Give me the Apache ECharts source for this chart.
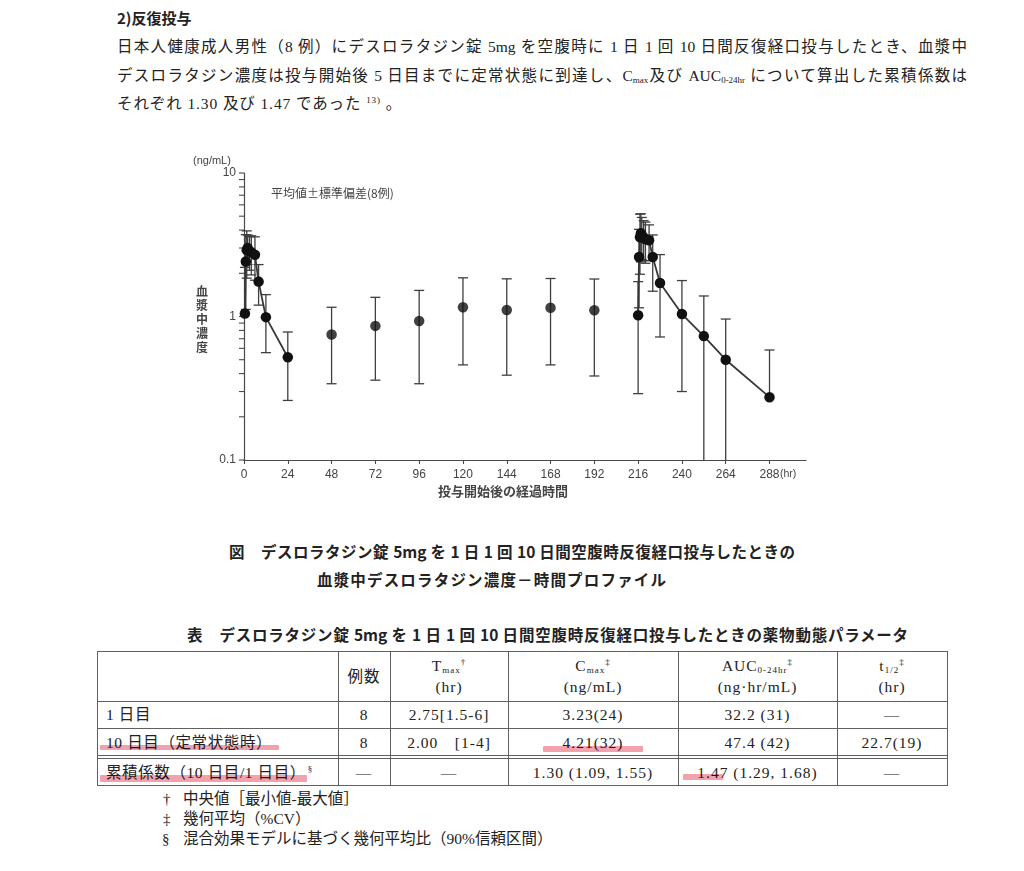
<!DOCTYPE html>
<html>
<head>
<meta charset="utf-8">
<script src="https://cdn.jsdelivr.net/npm/echarts@6/dist/echarts.min.js"></script>
<style>
html,body{margin:0;padding:0;background:#fff;}
#page{position:relative;width:1024px;height:871px;overflow:hidden;background:#fff;
  font-family:"Liberation Serif","Noto Sans CJK JP",serif;color:#222;}
.t{position:absolute;white-space:normal;}
.j{text-align:justify;text-align-last:justify;}
.g{font-family:"Noto Sans CJK JP",sans-serif;font-weight:700;}
sub.s{font-size:9px;vertical-align:-2px;line-height:0;}
sup.s{font-size:9px;vertical-align:6px;line-height:0;}
#chart{position:absolute;left:0;top:0;width:1024px;height:871px;z-index:2;}
.hl{position:absolute;background:#f3a2ad;mix-blend-mode:multiply;z-index:5;border-radius:1px;}
.ln{position:absolute;background:#606060;}
.cell{position:absolute;display:flex;align-items:center;justify-content:center;text-align:center;
  font-size:15.5px;line-height:21px;white-space:nowrap;letter-spacing:1px;}
.cell > div{display:block;}
.cell.left{justify-content:flex-start;padding-left:9px;box-sizing:border-box;letter-spacing:0.6px;}
</style>
</head>
<body>
<div id="page">
  <div class="t g" style="left:117px;top:7px;font-size:15px;line-height:22px;">2)反復投与</div>
  <div class="t j" style="left:117px;top:36px;width:850px;font-size:15.5px;line-height:22px;">日本人健康成人男性（8 例）にデスロラタジン錠 5mg を空腹時に 1 日 1 回 10 日間反復経口投与したとき、血漿中</div>
  <div class="t j" style="left:117px;top:65px;width:850px;font-size:15.5px;line-height:22px;">デスロラタジン濃度は投与開始後 5 日目までに定常状態に到達し、C<sub class="s">max</sub>及び AUC<sub class="s">0-24hr</sub> について算出した累積係数は</div>
  <div class="t" style="left:117px;top:93px;font-size:15.5px;line-height:22px;letter-spacing:0.9px;">それぞれ 1.30 及び 1.47 であった <sup class="s">13)</sup> 。</div>

  <div class="t g j" style="left:229px;top:540px;width:566px;font-size:15.5px;line-height:22px;">図　デスロラタジン錠 5mg を 1 日 1 回 10 日間空腹時反復経口投与したときの</div>
  <div class="t g j" style="left:317px;top:568px;width:349px;font-size:15.5px;line-height:22px;">血漿中デスロラタジン濃度－時間プロファイル</div>
  <div class="t g j" style="left:187px;top:623px;width:721px;font-size:15.5px;line-height:22px;">表　デスロラタジン錠 5mg を 1 日 1 回 10 日間空腹時反復経口投与したときの薬物動態パラメータ</div>

  <div id="table"></div>

  <div class="t" style="left:163px;top:789px;font-size:15px;line-height:20px;">†</div>
  <div class="t" style="left:183px;top:789px;font-size:15.5px;line-height:20px;">中央値［最小値-最大値］</div>
  <div class="t" style="left:163px;top:809px;font-size:15px;line-height:20px;">‡</div>
  <div class="t" style="left:183px;top:809px;font-size:15.5px;line-height:20px;">幾何平均（%CV）</div>
  <div class="t" style="left:162px;top:829px;font-size:15px;line-height:20px;">§</div>
  <div class="t" style="left:183px;top:829px;font-size:15.5px;line-height:20px;">混合効果モデルに基づく幾何平均比（90%信頼区間）</div>

  <div class="hl" style="left:100px;top:745px;width:179px;height:5px;"></div>
  <div class="hl" style="left:100px;top:775px;width:207px;height:7px;"></div>
  <div class="hl" style="left:543px;top:746px;width:100px;height:6px;"></div>
  <div class="hl" style="left:683px;top:774px;width:40px;height:6px;"></div>

  <div id="chart"></div>
</div>
<script>
// ---------- chart data ----------
const day1Time  = [0.5, 1, 1.5, 2, 3, 4, 6, 8, 12, 24];
const day1Mean  = [1.05, 2.42, 2.9, 3.0, 2.85, 2.8, 2.69, 1.75, 0.99, 0.52];
const day1SD    = [1.15, 1.3, 1.05, 0.7, 0.75, 0.85, 0.9, 0.55, 0.43, 0.26];

const troughTime = [48, 72, 96, 120, 144, 168, 192];
const troughMean = [0.75, 0.86, 0.93, 1.16, 1.11, 1.15, 1.105];
const troughSD   = [0.41, 0.5, 0.59, 0.7, 0.72, 0.69, 0.72];

const day10Time = [216, 216.5, 217, 217.5, 218, 219, 220, 222, 224, 228, 240, 252, 264, 288];
const day10Mean = [1.02, 2.6, 3.57, 3.8, 3.7, 3.55, 3.45, 3.4, 2.6, 1.71, 1.04, 0.73, 0.50, 0.274];
const day10SD   = [0.73, 1.45, 1.6, 1.4, 1.2, 1.1, 1.1, 0.95, 1.1, 0.99, 0.74, 0.66, 0.46, 0.31];

const xTickValues = [0, 24, 48, 72, 96, 120, 144, 168, 192, 216, 240, 264, 288];
const yLabelValues = [0.1, 1, 10];
const yTickValues = [0.1,0.2,0.3,0.4,0.5,0.6,0.7,0.8,0.9,1,2,3,4,5,6,7,8,9,10];

// ---------- table text ----------
const tableHead = [
  '',
  '例数',
  'T<sub class="s">max</sub><sup class="s">†</sup><br>(hr)',
  'C<sub class="s">max</sub><sup class="s">‡</sup><br>(ng/mL)',
  'AUC<sub class="s">0-24hr</sub><sup class="s">‡</sup><br>(ng·hr/mL)',
  't<sub class="s">1/2</sub><sup class="s">‡</sup><br>(hr)'
];
const tableRow1 = ['1 日目', '8', '2.75[1.5-6]', '3.23(24)', '32.2 (31)', '—'];
const tableRow2 = ['10 日目（定常状態時）', '8', '2.00　[1-4]', '4.21(32)', '47.4 (42)', '22.7(19)'];
const tableRow3 = ['累積係数（10 日目/1 日目）<sup class="s">　§</sup>', '—', '—', '1.30 (1.09, 1.55)', '1.47 (1.29, 1.68)', '—'];

// ---------- build table ----------
(function(){
  const colX = [97, 338, 390, 508, 678, 837, 947];
  const rowTop = [651, 701, 728, 758];
  const rowBot = [701, 728, 756, 786];
  const rows = [tableHead, tableRow1, tableRow2, tableRow3];
  const host = document.getElementById('table');
  let html = '';
  [651, 701, 728, 755, 758, 785].forEach(y => {
    html += `<div class="ln" style="left:97px;top:${y}px;width:851px;height:1.2px"></div>`;
  });
  colX.forEach(x => {
    html += `<div class="ln" style="left:${x}px;top:651px;width:1.2px;height:135px"></div>`;
  });
  rows.forEach((r, ri) => {
    r.forEach((txt, ci) => {
      const l = colX[ci], w = colX[ci+1] - colX[ci];
      const t = rowTop[ri], h = rowBot[ri] - rowTop[ri];
      const cls = (ci === 0 && ri > 0) ? 'cell left' : 'cell';
      html += `<div class="${cls}" style="left:${l}px;top:${t}px;width:${w}px;height:${h}px"><div>${txt}</div></div>`;
    });
  });
  host.innerHTML = html;
})();

// ---------- chart ----------
const Y_MIN = 0.1, Y_MAX = 10, X_MAX = 308;
const CAP = 5, TICK = 5;
function toTriples(t, m, s){ return t.map((x, i) => [x, m[i], s[i]]); }
function toPairs(t, m){ return t.map((x, i) => [x, m[i]]); }

function renderErr(params, api){
  const t = api.value(0), m = api.value(1), s = api.value(2);
  const hi = m + s, lo = m - s;
  const pm = api.coord([t, m]);
  const ph = api.coord([t, Math.min(hi, Y_MAX)]);
  const st = {stroke: '#3f3f3f', lineWidth: 1.3, fill: null};
  const ch = [
    {type:'line', shape:{x1:pm[0], y1:pm[1], x2:ph[0], y2:ph[1]}, style:st},
    {type:'line', shape:{x1:ph[0]-CAP, y1:ph[1], x2:ph[0]+CAP, y2:ph[1]}, style:st}
  ];
  if (lo > 0) {
    const clipped = lo < Y_MIN;
    const pl = api.coord([t, clipped ? Y_MIN : lo]);
    ch.push({type:'line', shape:{x1:pm[0], y1:pm[1], x2:pl[0], y2:pl[1]}, style:st});
    if (!clipped) ch.push({type:'line', shape:{x1:pl[0]-CAP, y1:pl[1], x2:pl[0]+CAP, y2:pl[1]}, style:st});
  }
  return {type:'group', children: ch};
}

// y-axis ticks (log-spaced minor + major) drawn from yTickValues through the axis scale
function renderYTick(params, api){
  const v = api.value(1);
  const p = api.coord([0, v]);
  return {type:'line', shape:{x1:p[0]-TICK, y1:p[1], x2:p[0], y2:p[1]},
    style:{stroke:'#4a4a4a', lineWidth:1.1}};
}

const axisColor = '#4a4a4a';
const labelFont = {color:'#444', fontSize:12, fontFamily:'Liberation Sans, Arial, sans-serif'};
const markerStyle = {color:'#111'};
const lineStyle = {color:'#383838', width:1.8};

const chart = echarts.init(document.getElementById('chart'), null, {renderer:'canvas'});
chart.setOption({
  animation: false,
  backgroundColor: 'transparent',
  grid: {left:244, right:1024-806, top:173, bottom:871-460, containLabel:false, outerBoundsMode:'none'},
  xAxis: {
    type:'value', min:0, max:X_MAX,
    axisLine:{onZero:false, lineStyle:{color:axisColor, width:1.2}},
    axisTick:{show:true, length:4, customValues:xTickValues, lineStyle:{color:axisColor, width:1.1}},
    axisLabel:Object.assign({customValues:xTickValues, margin:9}, labelFont),
    splitLine:{show:false}
  },
  yAxis: {
    type:'log', logBase:10, min:Y_MIN, max:Y_MAX,
    axisLine:{show:true, lineStyle:{color:axisColor, width:1.2}},
    axisTick:{show:false},
    axisLabel:Object.assign({margin:8,
      formatter: v => String(+Number(v).toPrecision(3))}, labelFont),
    splitLine:{show:false}
  },
  graphic: [
    {type:'text', left:193, top:155, style:{text:'(ng/mL)', fill:'#444', font:'11px "Liberation Sans", Arial, sans-serif'}},
    {type:'text', left:271, top:187, style:{text:'平均値±標準偏差(8例)', fill:'#444', font:'12px "Noto Sans CJK JP", sans-serif'}},
    {type:'text', left:196, top:284, style:{text:'血\n漿\n中\n濃\n度', fill:'#444', lineHeight:14, font:'bold 12px "Noto Sans CJK JP", sans-serif'}},
    {type:'text', left:438, top:485, style:{text:'投与開始後の経過時間', fill:'#444', font:'bold 13px "Noto Sans CJK JP", sans-serif'}},
    {type:'text', left:780, top:469, style:{text:'(hr)', fill:'#444', font:'10.5px "Liberation Sans", Arial, sans-serif'}}
  ],
  series: [
    {type:'custom', renderItem:renderYTick, data:yTickValues.map(v => [0, v]), encode:{x:0, y:1}, z:1, silent:true, clip:false},
    {type:'custom', renderItem:renderErr, data:toTriples(day1Time, day1Mean, day1SD), encode:{x:0, y:1}, z:2, silent:true, clip:false},
    {type:'custom', renderItem:renderErr, data:toTriples(troughTime, troughMean, troughSD), encode:{x:0, y:1}, z:2, silent:true, clip:false},
    {type:'custom', renderItem:renderErr, data:toTriples(day10Time, day10Mean, day10SD), encode:{x:0, y:1}, z:2, silent:true, clip:false},
    {type:'line', data:toPairs(day1Time, day1Mean), symbol:'circle', symbolSize:10.5, itemStyle:markerStyle, lineStyle:lineStyle, z:3, silent:true},
    {type:'scatter', data:toPairs(troughTime, troughMean), symbol:'circle', symbolSize:10.5, itemStyle:markerStyle, z:3, silent:true},
    {type:'line', data:toPairs(day10Time, day10Mean), symbol:'circle', symbolSize:10.5, itemStyle:markerStyle, lineStyle:lineStyle, z:3, silent:true}
  ]
});
</script>
</body>
</html>
